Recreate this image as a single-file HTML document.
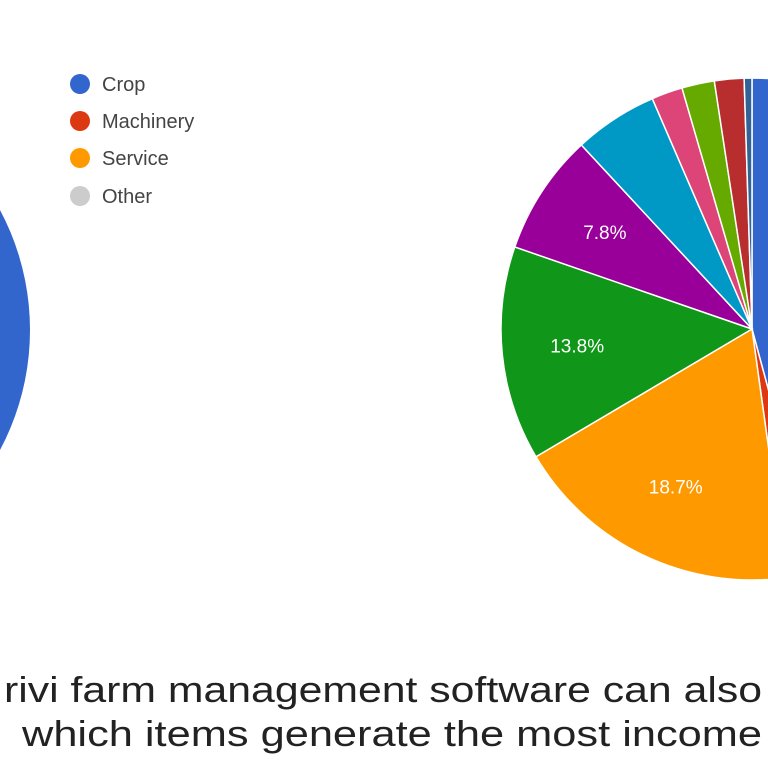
<!DOCTYPE html>
<html><head><meta charset="utf-8"><style>
html,body{margin:0;padding:0;background:#fff;overflow:hidden}
svg{display:block;font-family:"Liberation Sans",sans-serif}
</style></head><body>
<svg id="chart" width="768" height="768" viewBox="0 0 768 768">
<circle cx="-225" cy="330" r="255" fill="#3366cc"/>
<g>
<g><circle cx="80" cy="84" r="10" fill="#3366cc"/><text x="102" y="91" font-size="20" fill="#444">Crop</text></g>
<g><circle cx="80" cy="121" r="10" fill="#dc3912"/><text x="102" y="128" font-size="20" fill="#444">Machinery</text></g>
<g><circle cx="80" cy="158" r="10" fill="#ff9900"/><text x="102" y="165" font-size="20" fill="#444">Service</text></g>
<g><circle cx="80" cy="196" r="10" fill="#cccccc"/><text x="102" y="203" font-size="20" fill="#444">Other</text></g>
</g>
<g id="pie"></g>
<text x="4" y="702" font-size="36" fill="#222" textLength="758" lengthAdjust="spacingAndGlyphs">rivi farm management software can also</text>
<text x="22" y="746" font-size="36" fill="#222" textLength="740" lengthAdjust="spacingAndGlyphs">which items generate the most income</text>
</svg>
<script>
const sliceNames = ["blue","red","orange","green","purple","teal","pink","light-green","dark-red","dark-blue"];
const sliceValues = [45.8, 2.0, 18.7, 13.8, 7.8, 5.4, 2.0, 2.1, 1.9, 0.5];
const sliceLabels = ["", "", "18.7%", "13.8%", "7.8%", "", "", "", "", ""];
const colors = ["#3366cc","#dc3912","#ff9900","#109618","#990099","#0099c6","#dd4477","#66aa00","#b82e2e","#316395"];
const cx = 752, cy = 329, R = 251;
const g = document.getElementById('pie');
const NS = "http://www.w3.org/2000/svg";
const total = sliceValues.reduce((a,b)=>a+b,0);
function pt(a, r){ return [cx + r*Math.sin(a), cy - r*Math.cos(a)]; }
let acc = 0;
sliceValues.forEach((v,i)=>{
  const a0 = acc/total*2*Math.PI; acc += v;
  const a1 = acc/total*2*Math.PI;
  const p0 = pt(a0,R), p1 = pt(a1,R);
  const large = (a1-a0) > Math.PI ? 1 : 0;
  const path = document.createElementNS(NS,'path');
  path.setAttribute('d',`M${cx},${cy} L${p0[0]},${p0[1]} A${R},${R} 0 ${large} 1 ${p1[0]},${p1[1]} Z`);
  path.setAttribute('fill',colors[i]);
  path.setAttribute('stroke','#fff');
  path.setAttribute('stroke-width','1.5');
  
  
  g.appendChild(path);
  if (sliceLabels[i]) {
    const m = (a0+a1)/2, lp = pt(m, R*0.7);
    const t = document.createElementNS(NS,'text');
    t.setAttribute('x', lp[0]); t.setAttribute('y', lp[1]+6);
    t.setAttribute('text-anchor','middle'); t.setAttribute('font-size','19');
    t.setAttribute('fill','#fff');
    t.textContent = sliceLabels[i];
    
    
    g.appendChild(t);
  }
});
</script>
</body></html>
